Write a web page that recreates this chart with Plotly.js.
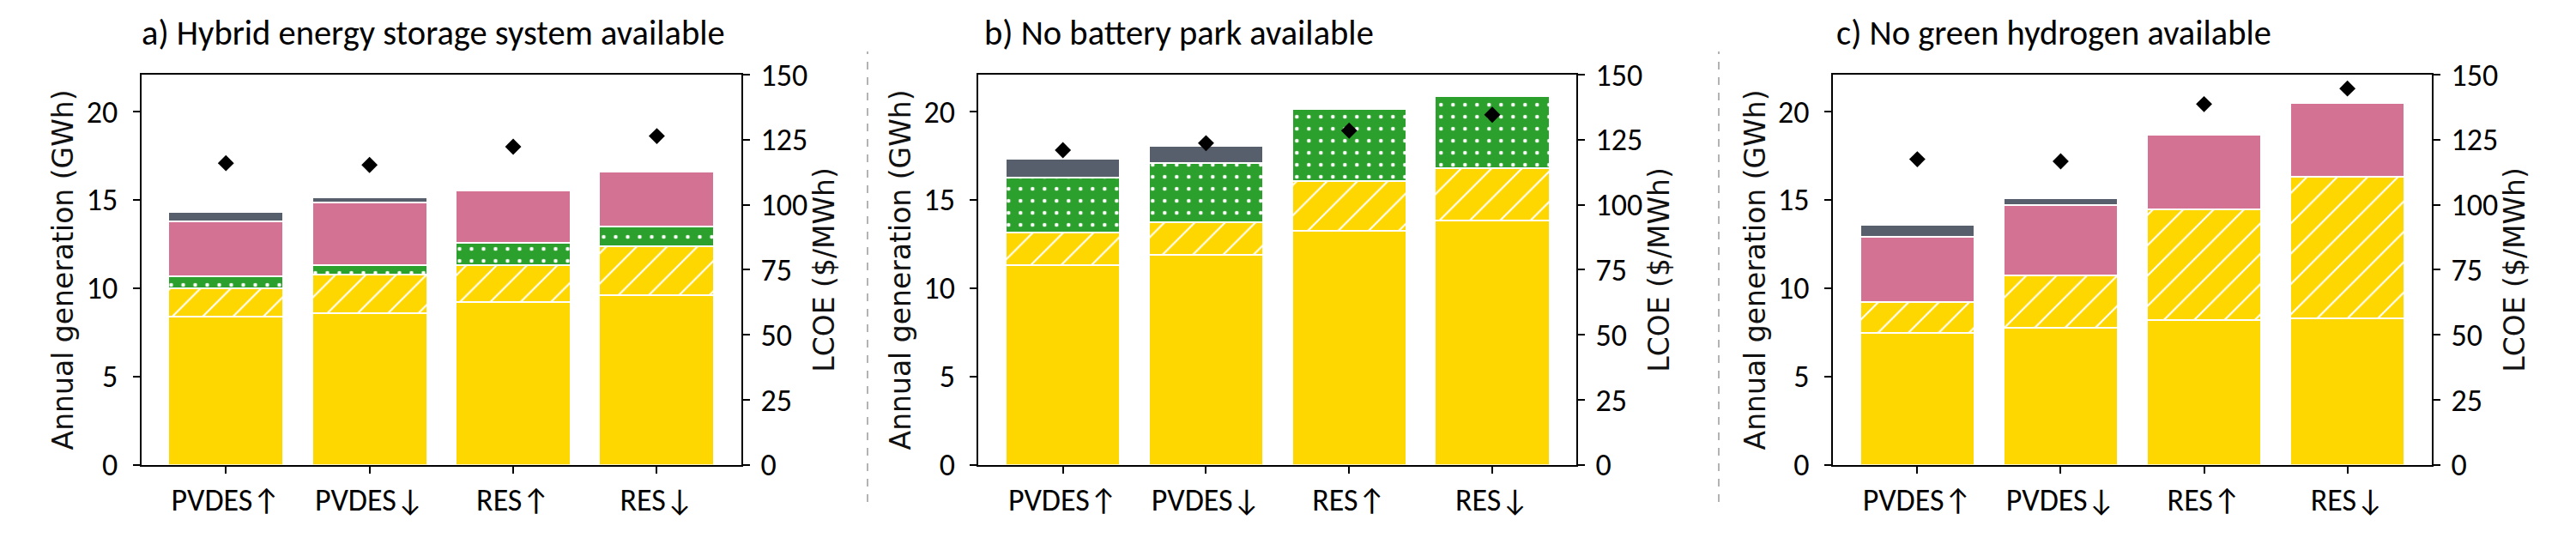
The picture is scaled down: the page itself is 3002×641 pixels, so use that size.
<!DOCTYPE html>
<html>
<head>
<meta charset="utf-8">
<script src="https://cdn.plot.ly/plotly-3.0.1.min.js"></script>
<style>html,body{margin:0;padding:0;background:#fff;}</style>
</head>
<body>
<div id="chart" style="width:3002px;height:641px;"></div>
<script>
// ---------------- DATA ----------------
const categories = ['PVDES↑', 'PVDES↓', 'RES↑', 'RES↓'];
const panelTitles = [
  'a) Hybrid energy storage system available',
  'b) No battery park available',
  'c) No green hydrogen available'
];
const yLeftTitle = 'Annual generation (GWh)';
const yRightTitle = 'LCOE ($/MWh)';
const yLeftTicks = [0, 5, 10, 15, 20];
const yRightTicks = [0, 25, 50, 75, 100, 125, 150];

// Panel a) Hybrid energy storage system available  (GWh per stacked segment)
const a_pvDirect = [8.38, 8.58, 9.20, 9.59];
const a_pvStored = [1.61, 2.20, 2.10, 2.76];
const a_hydrogen = [0.70, 0.54, 1.25, 1.16];
const a_battery  = [3.11, 3.52, 2.98, 3.11];
const a_backup   = [0.52, 0.29, null, null];
const a_lcoe     = [116.0, 115.3, 122.3, 126.4];

// Panel b) No battery park available
const b_pvDirect = [11.28, 11.88, 13.23, 13.84];
const b_pvStored = [1.87, 1.86, 2.84, 2.96];
const b_hydrogen = [3.10, 3.32, 4.09, 4.09];
const b_battery  = [null, null, null, null];
const b_backup   = [1.09, 0.99, null, null];
const b_lcoe     = [121.0, 123.7, 128.5, 134.6];

// Panel c) No green hydrogen available
const c_pvDirect = [7.45, 7.77, 8.18, 8.30];
const c_pvStored = [1.75, 2.95, 6.28, 7.99];
const c_hydrogen = [null, null, null, null];
const c_battery  = [3.71, 4.00, 4.21, 4.17];
const c_backup   = [0.69, 0.37, null, null];
const c_lcoe     = [117.5, 116.7, 138.7, 144.7];

// ---------------- STYLE ----------------
const W = 3002, H = 641;
const COL_YELLOW = '#FFD700';
const COL_GREEN = '#2CA02C';
const COL_PINK = '#D37293';
const COL_GRAY = '#565F6B';
const SANS_C = 'Carlito, Lato, sans-serif';
function tickFont() { return {family: SANS_C, size: 36, color: '#000000'}; }
function axtFont() { return {family: 'DejaVu Sans', size: 33, color: '#111111'}; }

const panels = [
  {pv: a_pvDirect, st: a_pvStored, h2: a_hydrogen, bat: a_battery, bk: a_backup, lcoe: a_lcoe,
   x: 'x', y: 'y', y2: 'y2', xDom: [164.5, 864.2], titleX: 162.5},
  {pv: b_pvDirect, st: b_pvStored, h2: b_hydrogen, bat: b_battery, bk: b_backup, lcoe: b_lcoe,
   x: 'x2', y: 'y3', y2: 'y4', xDom: [1140.3, 1837.4], titleX: 1144.5},
  {pv: c_pvDirect, st: c_pvStored, h2: c_hydrogen, bat: c_battery, bk: c_backup, lcoe: c_lcoe,
   x: 'x3', y: 'y5', y2: 'y6', xDom: [2135.8, 2834.2], titleX: 2138}
];
const yDom = [1 - 541.7 / H, 1 - 87.1 / H];

const traces = [];
panels.forEach((p, i) => {
  const common = {type: 'bar', x: categories, xaxis: p.x, yaxis: p.y, showlegend: false, hoverinfo: 'y'};
  const edge = () => ({color: '#ffffff', width: 2});
  traces.push(Object.assign({}, common, {name: 'PV direct', y: p.pv,
    marker: {color: COL_YELLOW, line: edge()}}));
  traces.push(Object.assign({}, common, {name: 'PV via storage', y: p.st,
    marker: {color: COL_YELLOW, line: edge(),
      pattern: {shape: '/', fgcolor: '#ffffff', bgcolor: COL_YELLOW, size: 25, solidity: 0.085, fillmode: 'replace'}}}));
  traces.push(Object.assign({}, common, {name: 'Green hydrogen', y: p.h2,
    marker: {color: COL_GREEN, line: edge(),
      pattern: {shape: '.', fgcolor: '#ffffff', bgcolor: COL_GREEN, size: 14, solidity: 0.08, fillmode: 'replace'}}}));
  traces.push(Object.assign({}, common, {name: 'Battery park', y: p.bat,
    marker: {color: COL_PINK, line: edge()}}));
  traces.push(Object.assign({}, common, {name: 'Backup', y: p.bk,
    marker: {color: COL_GRAY, line: edge()}}));
  traces.push({type: 'scatter', mode: 'markers', x: categories, y: p.lcoe, xaxis: p.x, yaxis: p.y2,
    showlegend: false, name: 'LCOE',
    marker: {symbol: 'diamond', size: 14.5, color: '#000000', line: {width: 0}}});
});

function xAxis(p, anchor) {
  return {
    domain: [p.xDom[0] / W, p.xDom[1] / W], anchor: anchor, type: 'category',
    range: [-0.59, 3.59], showgrid: false, zeroline: false,
    showline: true, mirror: true, linecolor: '#000', linewidth: 2,
    ticks: 'outside', ticklen: 8, tickwidth: 2, tickcolor: '#000',
    tickfont: tickFont(), automargin: false, fixedrange: true
  };
}
function yLeft(anchor) {
  return {
    domain: yDom, anchor: anchor, range: [0, 22.08], tickvals: yLeftTicks,
    showgrid: false, zeroline: false, showline: true, linecolor: '#000', linewidth: 2,
    ticks: 'outside', ticklen: 8, tickwidth: 2, tickcolor: '#000', ticklabelstandoff: 10,
    tickfont: tickFont(), automargin: false,
    title: {text: yLeftTitle, font: axtFont(), standoff: 5}
  };
}
function yRight(anchor, overlay) {
  return {
    domain: yDom, anchor: anchor, overlaying: overlay, side: 'right', range: [0, 150], tickvals: yRightTicks,
    showgrid: false, zeroline: false, showline: true, linecolor: '#000', linewidth: 2,
    ticks: 'outside', ticklen: 8, tickwidth: 2, tickcolor: '#000', ticklabelstandoff: 5,
    tickfont: tickFont(), automargin: false,
    title: {text: yRightTitle, font: axtFont(), standoff: 9}
  };
}

const titleAnn = panels.map((p, i) => ({
  text: panelTitles[i], xref: 'paper', yref: 'paper',
  x: p.titleX / W, xanchor: 'left',
  y: 1 - 38 / H, yanchor: 'middle', showarrow: false,
  font: {family: SANS_C, size: 40.5, color: '#000000'}
}));

const sepLines = [1011, 2003].map(px => ({
  type: 'line', xref: 'paper', yref: 'paper',
  x0: px / W, x1: px / W, y0: 1 - 585 / H, y1: 1 - 60 / H,
  line: {color: '#9a9a9a', width: 1.5, dash: 'dash'}
}));

const layout = {
  width: W, height: H,
  margin: {l: 0, r: 0, t: 0, b: 0, pad: 0},
  paper_bgcolor: '#ffffff', plot_bgcolor: 'rgba(0,0,0,0)',
  font: {family: 'DejaVu Sans'},
  barmode: 'stack', bargap: 0.2,
  showlegend: false,
  xaxis: xAxis(panels[0], 'y'),
  xaxis2: xAxis(panels[1], 'y3'),
  xaxis3: xAxis(panels[2], 'y5'),
  yaxis: yLeft('x'),
  yaxis2: yRight('x', 'y'),
  yaxis3: yLeft('x2'),
  yaxis4: yRight('x2', 'y3'),
  yaxis5: yLeft('x3'),
  yaxis6: yRight('x3', 'y5'),
  annotations: titleAnn,
  shapes: sepLines
};

Plotly.newPlot('chart', traces, layout, {displayModeBar: false, staticPlot: true});
</script>
</body>
</html>
